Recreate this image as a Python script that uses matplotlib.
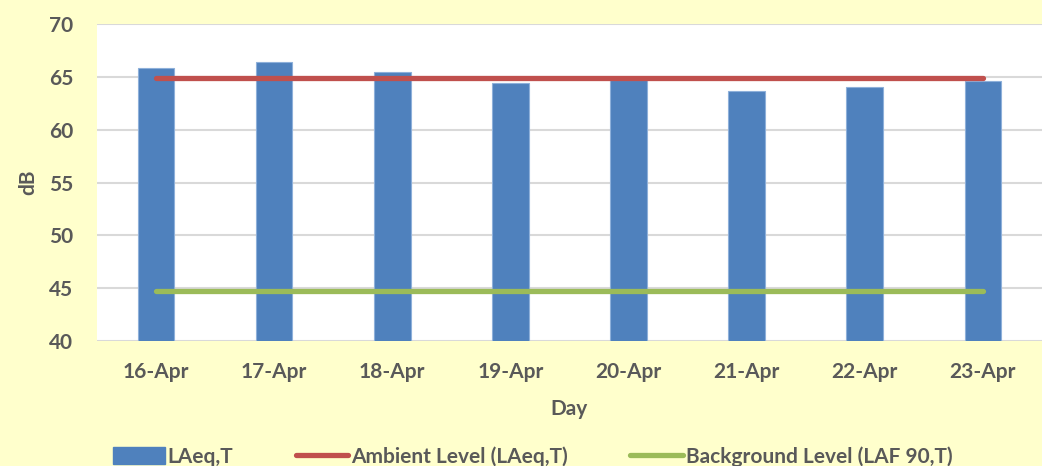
import numpy as np
import matplotlib.pyplot as plt
from matplotlib.patches import Patch
from matplotlib.lines import Line2D

days = ['16-Apr', '17-Apr', '18-Apr', '19-Apr', '20-Apr', '21-Apr', '22-Apr', '23-Apr']
laeq = [65.8, 66.4, 65.5, 64.4, 64.7, 63.7, 64.0, 64.6]
ambient = [64.9] * len(days)
background = [44.7] * len(days)

BG = '#FFFFCC'
TXT = '#595959'
FS = 15
plt.rcParams['font.family'] = ['Lato', 'DejaVu Sans']
plt.rcParams['font.weight'] = 'bold'

fig = plt.figure(figsize=(10.42, 4.66), dpi=100, facecolor=BG)
ax = fig.add_axes([0.093, 0.268, 0.907, 0.6805])
ax.set_facecolor('white')

x = np.arange(len(days))
ax.bar(x, laeq, width=0.31, color='#4F81BD', edgecolor='#8EB0DA',
       linewidth=0.8, zorder=2)
ax.plot(x, ambient, color='#C0504D', lw=3.8, solid_capstyle='round', zorder=3)
ax.plot(x, background, color='#9BBB59', lw=3.8, solid_capstyle='round', zorder=3)

ax.set_xlim(-0.5, len(days) - 0.5)
ax.set_ylim(40, 70)
ax.set_yticks(range(40, 71, 5))
ax.set_xticks(x)
ax.set_xticklabels(days)
ax.yaxis.grid(True, color='#D9D9D9', lw=1.5, zorder=0)
ax.set_axisbelow(True)
for s in ax.spines.values():
    s.set_visible(False)
ax.tick_params(length=0, labelsize=FS, labelcolor=TXT)
ax.tick_params(axis='x', pad=15)
ax.tick_params(axis='y', pad=17)

ax.set_xlabel('Day', fontsize=FS, color=TXT, fontweight='bold', labelpad=12)
ax.set_ylabel('dB', fontsize=FS, color=TXT, fontweight='bold', labelpad=8)

handles = [Patch(facecolor='#4F81BD', edgecolor='#4F81BD'),
           Line2D([], [], color='#C0504D', lw=3.8, solid_capstyle='round'),
           Line2D([], [], color='#9BBB59', lw=3.8, solid_capstyle='round')]
labels = ['LAeq,T', 'Ambient Level (LAeq,T)', 'Background Level (LAF 90,T)']
leg = fig.legend(handles, labels, loc='center', bbox_to_anchor=(0.511, 0.02),
                 ncol=3, frameon=False, fontsize=FS, handlelength=2.5,
                 handleheight=0.9, handletextpad=0.15, columnspacing=3.0,
                 borderpad=0)
for t in leg.get_texts():
    t.set_color(TXT)

fig.savefig('out.png', dpi=100, facecolor=BG)
